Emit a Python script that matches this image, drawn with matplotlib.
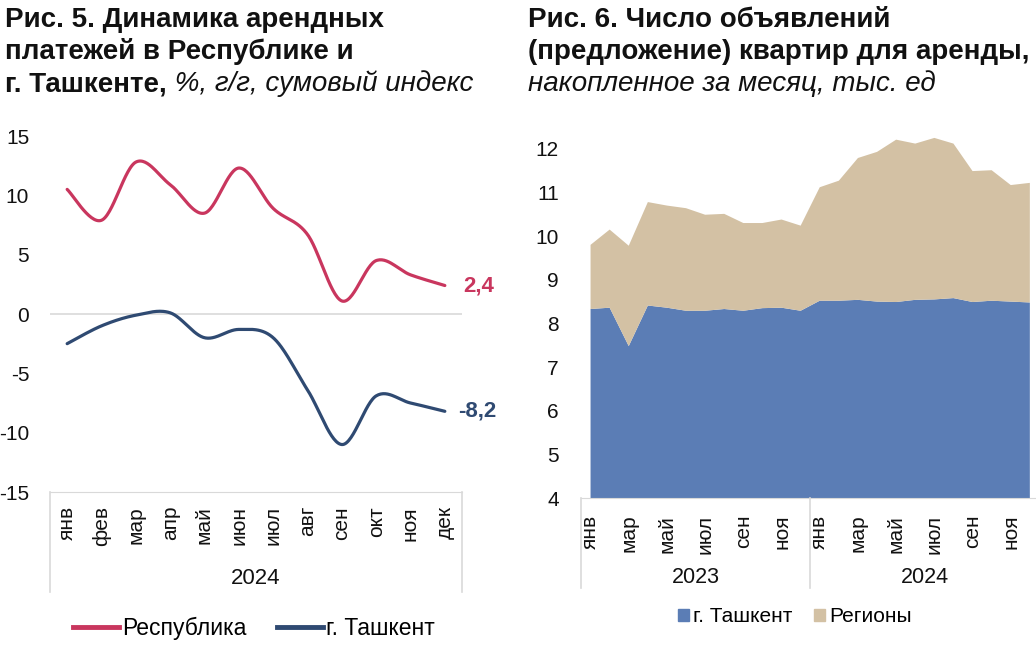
import matplotlib
matplotlib.use("Agg")
import matplotlib.pyplot as plt
from matplotlib.lines import Line2D
from matplotlib.patches import Patch
import numpy as np

plt.rcParams['font.family'] = ['Liberation Sans', 'DejaVu Sans']
plt.rcParams['axes.unicode_minus'] = False

# --- данные ---
months = ['янв', 'фев', 'мар', 'апр', 'май', 'июн', 'июл', 'авг', 'сен', 'окт', 'ноя', 'дек']
republic = [10.5, 7.9, 12.8, 10.9, 8.5, 12.3, 8.9, 6.7, 1.1, 4.5, 3.3, 2.4]
tashkent = [-2.5, -1.0, -0.1, 0.1, -2.0, -1.3, -2.0, -6.4, -11.0, -6.9, -7.5, -8.2]

years2 = ['2023', '2024']
month_ticks2 = ['янв', 'мар', 'май', 'июл', 'сен', 'ноя']
offers_tashkent = [8.33, 8.36, 7.48, 8.41, 8.36, 8.29, 8.29, 8.33, 8.29, 8.35, 8.36, 8.29,
                   8.52, 8.52, 8.54, 8.50, 8.49, 8.54, 8.55, 8.58, 8.49, 8.52, 8.50, 8.48]
offers_regions = [1.47, 1.79, 2.30, 2.37, 2.34, 2.35, 2.20, 2.18, 2.01, 1.95, 2.02, 1.95,
                  2.60, 2.75, 3.25, 3.43, 3.72, 3.58, 3.70, 3.54, 3.00, 2.99, 2.67, 2.74]

RED = '#C9365E'
NAVY = '#2F4A72'
BLUE = '#5B7DB5'
TAN = '#D3C1A4'
GRAY = '#D9D9D9'
TXT = '#111111'


def smooth(xs, ys, n=30):
    # сглаживание как в Excel (кривая Безье через точки)
    pts = np.column_stack([xs, ys]).astype(float)
    p = np.vstack([pts[0], pts, pts[-1]])
    t = np.linspace(0, 1, n, endpoint=False)[:, None]
    out = []
    for i in range(1, len(p) - 2):
        p0, p1, p2, p3 = p[i - 1], p[i], p[i + 1], p[i + 2]
        c1 = p1 + (p2 - p0) / 6
        c2 = p2 - (p3 - p1) / 6
        out.append((1 - t) ** 3 * p1 + 3 * (1 - t) ** 2 * t * c1 + 3 * (1 - t) * t ** 2 * c2 + t ** 3 * p2)
    out.append(pts[-1:])
    s = np.vstack(out)
    return s[:, 0], s[:, 1]


fig = plt.figure(figsize=(10.36, 6.48), dpi=100)
W, H = 1036, 648


def px_axes(l, t, r, b):
    return fig.add_axes([l / W, 1 - b / H, (r - l) / W, (b - t) / H])


# ---------- Рис. 5 ----------
ax1 = px_axes(50, 136, 462, 492)
x = np.arange(len(months))
sx, sy = smooth(x, republic)
ax1.plot(sx, sy, color=RED, lw=2.3, solid_capstyle='round')
sx, sy = smooth(x, tashkent)
ax1.plot(sx, sy, color=NAVY, lw=2.3, solid_capstyle='round')
ax1.axhline(0, color=GRAY, lw=1.2, zorder=0)
ax1.set_xlim(-0.5, len(months) - 0.5)
ax1.set_ylim(-15, 15)
ax1.set_yticks(range(-15, 16, 5))
ax1.set_xticks(x)
ax1.set_xticklabels(months, rotation=90)
for s in ['top', 'right', 'left']:
    ax1.spines[s].set_visible(False)
ax1.spines['bottom'].set_color(GRAY)
ax1.tick_params(axis='y', length=0, pad=15, labelsize=15, labelcolor=TXT)
ax1.tick_params(axis='x', length=0, pad=10, labelsize=15, labelcolor=TXT)
ax1.text(len(months) - 1 + 0.55, republic[-1], '2,4', color=RED, fontsize=16,
         fontweight='bold', va='center', ha='left')
ax1.text(len(months) - 1 + 0.4, tashkent[-1], '-8,2', color=NAVY, fontsize=16,
         fontweight='bold', va='center', ha='left')
for xx in [-0.5, len(months) - 0.5]:
    ax1.plot([xx, xx], [0, -0.28], transform=ax1.get_xaxis_transform(), color=GRAY,
             lw=1.2, clip_on=False)
ax1.text(5.5, -0.242, '2024', transform=ax1.get_xaxis_transform(), ha='center',
         va='center', fontsize=16, color=TXT)

fig.legend(handles=[Line2D([], [], color=RED, lw=3.5, label='Республика'),
                    Line2D([], [], color=NAVY, lw=3.5, label='г. Ташкент')],
           loc='center', bbox_to_anchor=(254 / W, 1 - 628 / H), ncol=2, frameon=False,
           fontsize=16.5, handlelength=2.0, handletextpad=0.17, columnspacing=1.3,
           borderpad=0, borderaxespad=0)

# ---------- Рис. 6 ----------
ax2 = px_axes(581, 127, 581 + 24 * 19.1, 498)
x2 = np.arange(len(offers_tashkent))
ax2.stackplot(x2, offers_tashkent, offers_regions, colors=[BLUE, TAN], lw=0)
ax2.set_xlim(-0.5, len(x2) - 0.5)
ax2.set_ylim(4, 12.5)
ax2.set_yticks(range(4, 13))
ax2.set_xticks(np.arange(0, len(x2), 2))
ax2.set_xticklabels(month_ticks2 * len(years2), rotation=90)
for s in ['top', 'right', 'left']:
    ax2.spines[s].set_visible(False)
ax2.spines['bottom'].set_color(GRAY)
ax2.tick_params(axis='y', length=0, pad=16, labelsize=15, labelcolor=TXT)
ax2.tick_params(axis='x', length=0, pad=12, labelsize=15, labelcolor=TXT)
for k in range(len(years2) + 1):
    xx = -0.5 + 12 * k
    ax2.plot([xx, xx], [0, -0.243], transform=ax2.get_xaxis_transform(), color=GRAY,
             lw=1.2, clip_on=False)
for k, yr in enumerate(years2):
    ax2.text(12 * k + 5.5, -0.214, yr, transform=ax2.get_xaxis_transform(), ha='center',
             va='center', fontsize=15.5, color=TXT)

fig.legend(handles=[Patch(color=BLUE, label='г. Ташкент'), Patch(color=TAN, label='Регионы')],
           loc='center', bbox_to_anchor=(795 / W, 1 - 617 / H), ncol=2, frameon=False,
           fontsize=15, handlelength=0.53, handleheight=0.55, handletextpad=0.2,
           columnspacing=1.05, borderpad=0, borderaxespad=0)

# ---------- заголовки ----------
renderer = fig.canvas.get_renderer()


def rich_line(x0, y0, parts, size=20):
    xx = x0 / W
    for txt, bold, ital in parts:
        t = fig.text(xx, 1 - y0 / H, txt, fontsize=size, color=TXT, va='baseline',
                     fontweight='bold' if bold else 'normal',
                     fontstyle='italic' if ital else 'normal')
        bb = t.get_window_extent(renderer)
        xx += bb.width / W


rich_line(5, 27, [('Рис. 5. Динамика арендных', True, False)])
rich_line(5, 59, [('платежей в Республике и', True, False)])
rich_line(5, 91, [('г. Ташкенте,', True, False), (' %, г/г, сумовый индекс', False, True)])
rich_line(528, 27, [('Рис. 6. Число объявлений', True, False)])
rich_line(528, 59, [('(предложение) квартир для аренды,', True, False)])
rich_line(528, 91, [('накопленное за месяц, тыс. ед', False, True)])

fig.savefig('out.png', dpi=100)
